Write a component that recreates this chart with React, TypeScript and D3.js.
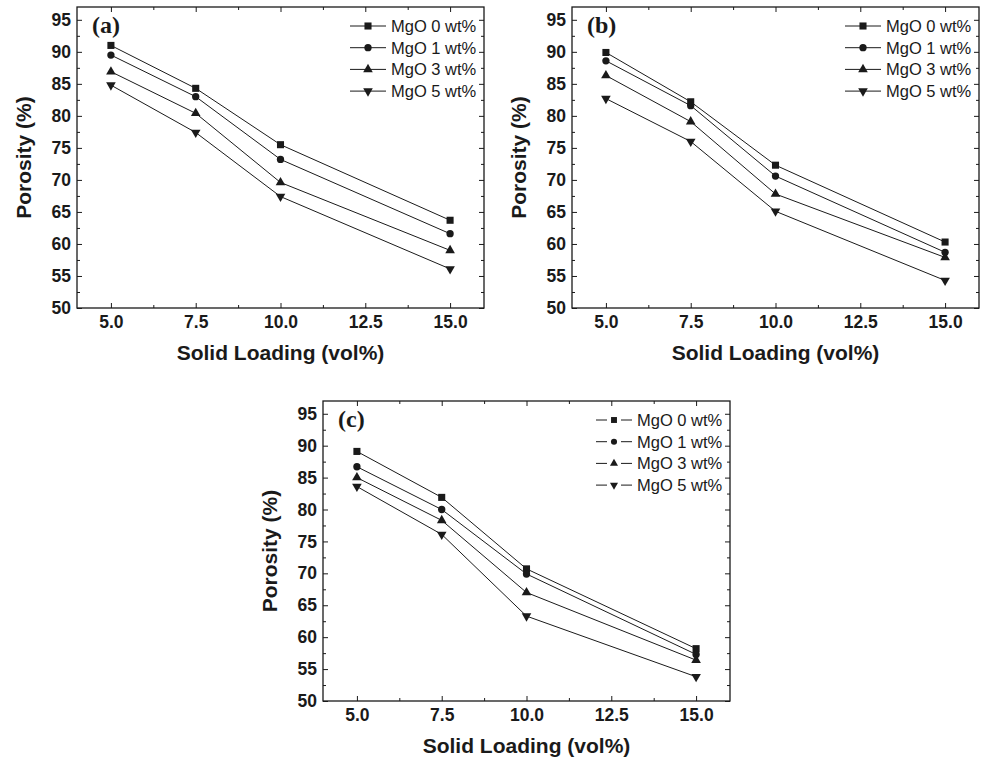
import React, { useEffect, useRef } from 'react';
import * as d3 from 'd3';

// x values shared by every panel
const solidLoading = [5, 7.5, 10, 15];
const seriesNames = ['MgO 0 wt%', 'MgO 1 wt%', 'MgO 3 wt%', 'MgO 5 wt%'];
const xTicks = [5, 7.5, 10, 12.5, 15];
const yTicks = [50, 55, 60, 65, 70, 75, 80, 85, 90, 95];

// porosity (%) per series, panel a / b / c
const porosityA = [
  [91.0, 84.3, 75.5, 63.7],
  [89.5, 83.0, 73.2, 61.6],
  [86.9, 80.4, 69.6, 59.0],
  [84.8, 77.4, 67.4, 56.1],
];
const porosityB = [
  [89.9, 82.2, 72.3, 60.3],
  [88.6, 81.6, 70.6, 58.7],
  [86.3, 79.1, 67.8, 57.9],
  [82.7, 76.0, 65.1, 54.3],
];
const porosityC = [
  [89.1, 81.9, 70.7, 58.2],
  [86.7, 80.0, 69.9, 57.3],
  [85.0, 78.3, 67.0, 56.4],
  [83.6, 76.1, 63.3, 53.8],
];

const INK = '#1a1a1a';
const SANS = '"Liberation Sans", Arial, sans-serif';
const SERIF = '"Liberation Serif", "Times New Roman", serif';

const symbols = [
  { type: d3.symbolSquare, size: 50, rotate: 0 },
  { type: d3.symbolCircle, size: 42, rotate: 0 },
  { type: d3.symbolTriangle, size: 40, rotate: 0 },
  { type: d3.symbolTriangle, size: 40, rotate: 180 },
];

const panels = [
  { label: '(a)', data: porosityA, left: 77, top: 7, width: 407, height: 301, gap: false },
  { label: '(b)', data: porosityB, left: 572, top: 7, width: 407, height: 301, gap: false },
  { label: '(c)', data: porosityC, left: 323, top: 401, width: 407, height: 300, gap: true },
];

const App = () => {
  const svgRef = useRef<SVGSVGElement>(null);

  useEffect(() => {
    const svg = d3.select(svgRef.current);
    svg.selectAll('*').remove();

    panels.forEach((p) => {
      const g = svg.append('g').attr('transform', `translate(${p.left},${p.top})`);

      const x = d3.scaleLinear().domain([4, 16]).range([0, p.width]);
      const y = d3.scaleLinear().domain([50, 97]).range([p.height, 0]);

      const minorX = d3.range(6.25, 15, 2.5);
      const minorY = d3.range(52.5, 97, 5);

      // major axes, ticks pointing in
      const addAxis = (axis: any, tx: number, ty: number, labels: boolean) => {
        const a = g.append('g').attr('transform', `translate(${tx},${ty})`).call(axis);
        a.select('.domain').remove();
        a.selectAll('line').attr('stroke', INK).attr('stroke-width', 1);
        if (!labels) a.selectAll('text').remove();
        return a;
      };

      const bottom = addAxis(
        d3.axisBottom(x).tickValues(xTicks).tickSize(-5).tickPadding(8).tickFormat(d3.format('.1f')),
        0, p.height, true
      );
      bottom.selectAll('text')
        .attr('font-family', SANS).attr('font-weight', 'bold').attr('font-size', 17.5).attr('fill', INK);

      const leftAx = addAxis(
        d3.axisLeft(y).tickValues(yTicks).tickSize(-5).tickPadding(6).tickFormat(d3.format('d')),
        0, 0, true
      );
      leftAx.selectAll('text')
        .attr('font-family', SANS).attr('font-weight', 'bold').attr('font-size', 17.5).attr('fill', INK);

      addAxis(d3.axisTop(x).tickValues(xTicks).tickSize(-5), 0, 0, false);
      addAxis(d3.axisRight(y).tickValues(yTicks).tickSize(-5), p.width, 0, false);

      // minor ticks
      addAxis(d3.axisBottom(x).tickValues(minorX).tickSize(-3), 0, p.height, false);
      addAxis(d3.axisTop(x).tickValues(minorX).tickSize(-3), 0, 0, false);
      addAxis(d3.axisLeft(y).tickValues(minorY).tickSize(-3), 0, 0, false);
      addAxis(d3.axisRight(y).tickValues(minorY).tickSize(-3), p.width, 0, false);

      // frame
      g.append('rect')
        .attr('width', p.width).attr('height', p.height)
        .attr('fill', 'none').attr('stroke', INK).attr('stroke-width', 1.3);

      // axis titles
      g.append('text')
        .attr('x', p.width / 2).attr('y', p.height + 52)
        .attr('text-anchor', 'middle')
        .attr('font-family', SANS).attr('font-weight', 'bold').attr('font-size', 21)
        .attr('fill', INK)
        .text('Solid Loading (vol%)');

      g.append('text')
        .attr('transform', `translate(${-46},${p.height / 2}) rotate(-90)`)
        .attr('text-anchor', 'middle')
        .attr('font-family', SANS).attr('font-weight', 'bold').attr('font-size', 21)
        .attr('fill', INK)
        .text('Porosity (%)');

      // panel tag
      g.append('text')
        .attr('x', 15).attr('y', 26)
        .attr('font-family', SERIF).attr('font-weight', 'bold').attr('font-size', 24)
        .attr('fill', INK)
        .text(p.label);

      // series
      const line = d3.line<number>()
        .x((_, i) => x(solidLoading[i]))
        .y((d) => y(d));

      p.data.forEach((vals, si) => {
        g.append('path')
          .attr('d', line(vals))
          .attr('fill', 'none').attr('stroke', INK).attr('stroke-width', 1);

        const sym = symbols[si];
        g.append('g')
          .selectAll('path')
          .data(vals)
          .join('path')
          .attr('transform', (d, i) => `translate(${x(solidLoading[i])},${y(d)}) rotate(${sym.rotate})`)
          .attr('d', d3.symbol().type(sym.type).size(sym.size)() as string)
          .attr('fill', INK);
      });

      // legend
      const leg = g.append('g');
      seriesNames.forEach((name, si) => {
        const ly = 19 + si * 21.7;
        const sx = p.width - 116;
        if (p.gap) {
          leg.append('line').attr('x1', p.width - 134).attr('x2', p.width - 123)
            .attr('y1', ly).attr('y2', ly).attr('stroke', INK).attr('stroke-width', 1);
          leg.append('line').attr('x1', p.width - 109).attr('x2', p.width - 98)
            .attr('y1', ly).attr('y2', ly).attr('stroke', INK).attr('stroke-width', 1);
        } else {
          leg.append('line').attr('x1', p.width - 134).attr('x2', p.width - 98)
            .attr('y1', ly).attr('y2', ly).attr('stroke', INK).attr('stroke-width', 1);
        }
        const sym = symbols[si];
        leg.append('path')
          .attr('transform', `translate(${sx},${ly}) rotate(${sym.rotate})`)
          .attr('d', d3.symbol().type(sym.type).size(p.gap ? sym.size * 0.7 : sym.size)() as string)
          .attr('fill', INK);
        leg.append('text')
          .attr('x', p.width - 93).attr('y', ly)
          .attr('dy', '0.36em')
          .attr('font-family', SANS).attr('font-size', 16.5)
          .attr('fill', INK)
          .text(name);
      });
    });
  }, []);

  return (
    <svg
      ref={svgRef}
      width={982}
      height={760}
      style={{ position: 'absolute', left: 0, top: 0, background: '#fff' }}
    />
  );
};

export default App;
